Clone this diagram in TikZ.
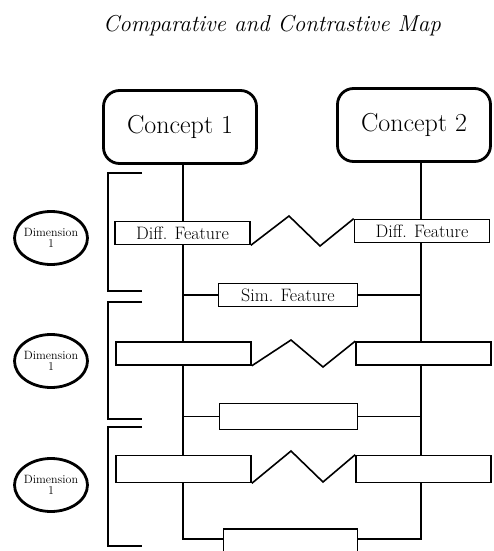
\documentclass[tikz,border=0pt]{standalone}
\usepackage{tikz}
\usetikzlibrary{positioning}
\usetikzlibrary{shapes.geometric}

\begin{document}
\begin{tikzpicture}[x=1pt,y=-1pt,line width=1.6pt,
  concept/.style={draw,line width=2.8pt,rounded corners=16pt,minimum width=153pt,minimum height=73pt,font=\fontsize{26}{30}\selectfont},
  feature/.style={draw,fill=white,minimum width=135pt,minimum height=23pt,inner sep=0pt,font=\fontsize{18}{20}\selectfont},
  dimension/.style={draw,ellipse,line width=2.8pt,minimum width=73pt,minimum height=53pt,inner sep=0pt,align=center,font=\fontsize{12}{11}\selectfont}]
  \useasboundingbox (0,0) rectangle (494,551);

  \node (title) at (272,26) {\fontsize{23}{27}\selectfont\itshape Comparative and Contrastive Map};

  \node [concept] (c1) at (180,127) {Concept 1};
  \node [concept] (c2) at (414,125) {Concept 2};
  \coordinate (c1b) at ([xshift=3pt]c1.south);
  \coordinate (c2b) at ([xshift=7pt]c2.south);

  \node [feature,minimum width=134pt,minimum height=32pt] (s3) at (290.5,545) {};

  % lines behind the boxes
  \draw (c1b) |- ([yshift=6pt]s3.west);
  \draw (c2b) |- ([yshift=6pt]s3.east);

  \node [feature] (d1l) at (182.5,233) {Diff. Feature};
  \node [feature] (d1r) at (422,231)   {Diff. Feature};
  \node [feature,minimum width=139pt] (s1) at (288,295) {Sim. Feature};

  \node [feature] (d2l) at (183.5,353.5) {};
  \node [feature] (d2r) at (423.5,353.5) {};
  \node [feature,minimum width=138pt,minimum height=26pt] (s2) at (288.5,416.5) {};

  \node [feature,minimum height=27pt] (d3l) at (183.5,469) {};
  \node [feature,minimum height=27pt] (d3r) at (423.5,469) {};

  \draw (s1.west) -- (s1.west -| c1b);
  \draw (s1.east) -- (s1.east -| c2b);
  \draw (s2.west) -- (s2.west -| c1b);
  \draw (s2.east) -- (s2.east -| c2b);

  % zigzags
  \draw (d1l.south east) -- (289,216) -- (320,246) -- (d1r.north west);
  \draw (d2l.south east) -- (291,340) -- (323,367) -- (d2r.north west);
  \draw (d3l.south east) -- (291,451) -- (323,482) -- (d3r.north west);

  % brackets
  \draw (142,173) -- (108,173) -- (108,291) -- (142,291);
  \draw (142,302) -- (108,302) -- (108,419) -- (142,419);
  \draw (142,427) -- (108,427) -- (108,546) -- (142,546);

  \node [dimension] (dim1) at (51,238) {\makebox[40pt]{Dimension}\\1};
  \node [dimension] (dim2) at (51,361) {\makebox[40pt]{Dimension}\\1};
  \node [dimension] (dim3) at (51,485) {\makebox[40pt]{Dimension}\\1};
\end{tikzpicture}
\end{document}
